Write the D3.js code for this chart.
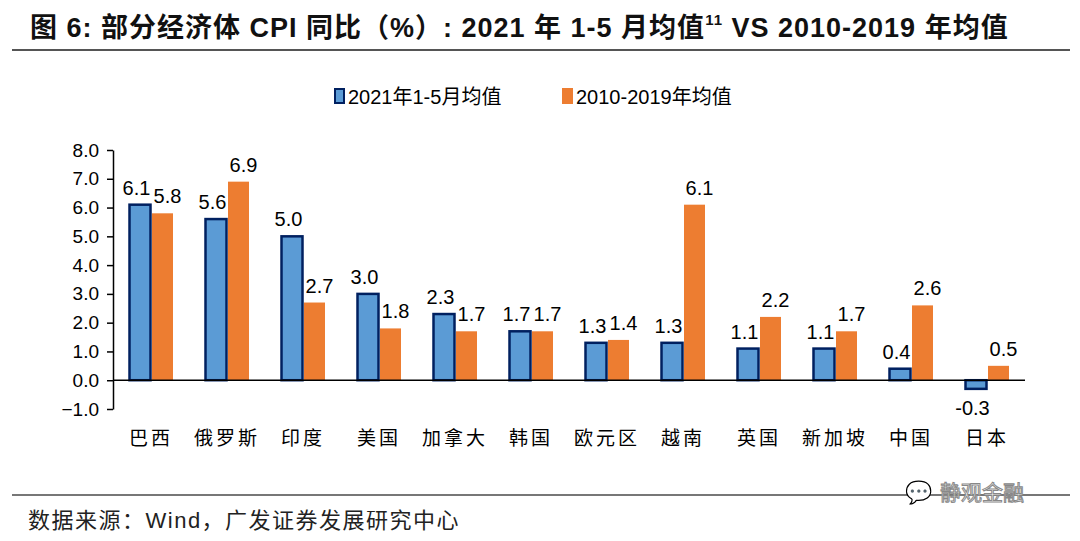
<!DOCTYPE html>
<html><head><meta charset="utf-8">
<script src="https://cdn.jsdelivr.net/npm/d3@7"></script>
<style>body{margin:0;background:#fff}svg text{font-family:"Liberation Sans","Noto Sans CJK SC",sans-serif}</style>
</head><body>
<svg id="c" width="1080" height="541"></svg>
<script>
// CPI comparison chart
var categories = ["巴西","俄罗斯","印度","美国","加拿大","韩国","欧元区","越南","英国","新加坡","中国","日本"];
var avg2021 = [6.1,5.6,5.0,3.0,2.3,1.7,1.3,1.3,1.1,1.1,0.4,-0.3];
var avg2010 = [5.8,6.9,2.7,1.8,1.7,1.7,1.4,6.1,2.2,1.7,2.6,0.5];
var yTicks = [-1,0,1,2,3,4,5,6,7,8];

var svg = d3.select("#c");
var cjk = '"Noto Sans CJK SC",sans-serif';

svg.append("text").attr("x",30).attr("y",37).attr("font-size",27).attr("font-weight","bold")
  .attr("font-family",'"Liberation Sans","Noto Sans CJK SC"').attr("fill","#111").attr("letter-spacing",1)
  .html('图 6:  部分经济体 CPI 同比（%）:  2021 年 1-5 月均值<tspan font-size="15" dy="-12">11</tspan><tspan dy="12">  VS 2010-2019 年均值</tspan>');
svg.append("line").attr("x1",12).attr("x2",1070).attr("y1",50).attr("y2",50).attr("stroke","#555").attr("stroke-width",2);
svg.append("line").attr("x1",12).attr("x2",1070).attr("y1",495).attr("y2",495).attr("stroke","#777").attr("stroke-width",2);
svg.append("text").attr("x",28).attr("y",528).attr("font-size",22).attr("font-family",cjk).attr("fill","#222")
  .attr("letter-spacing",1.5).text("数据来源：Wind，广发证券发展研究中心");
svg.append("text").attr("x",940).attr("y",500).attr("font-size",21).attr("font-family",cjk).attr("fill","#fff")
  .attr("stroke","#888").attr("stroke-width",1).text("静观金融");
svg.append("text").attr("x",905).attr("y",500).attr("font-size",22).attr("fill","#aaa").text("💬");

// legend
var leg = svg.append("g").attr("transform","translate(335,97)");
leg.append("rect").attr("x",0).attr("y",-8).attr("width",9).attr("height",14).attr("fill","#5B9BD5").attr("stroke","#002060").attr("stroke-width",2);
leg.append("text").attr("x",13).attr("y",7).attr("font-size",20).attr("font-family",cjk).text("2021年1-5月均值");
leg.append("rect").attr("x",227).attr("y",-9).attr("width",11).attr("height",16).attr("fill","#ED7D31");
leg.append("text").attr("x",241).attr("y",7).attr("font-size",20).attr("font-family",cjk).text("2010-2019年均值");

var x = d3.scaleBand().domain(categories).range([113,1025]);
var y = d3.scaleLinear().domain([-1,8]).range([409,150]);
var bw = 21;

var ax = svg.append("g").attr("transform","translate(113,0)")
  .call(d3.axisLeft(y).tickValues(yTicks).tickFormat(d3.format(".1f")).tickSize(6).tickSizeOuter(0));
ax.select(".domain").attr("stroke","#000").attr("stroke-width",1.5);
ax.selectAll("line").attr("stroke","#000").attr("stroke-width",1.5).attr("x2",0).attr("x1",-6);
ax.selectAll("text").attr("font-size",19).attr("fill","#000").attr("x",-14).attr("font-family","Liberation Sans");

var g = svg.append("g");
categories.forEach(function(c,i){
  var cx = x(c)+x.bandwidth()/2;
  var v1 = avg2021[i], v2 = avg2010[i];
  g.append("rect").attr("x",cx-bw-0.5).attr("width",bw)
    .attr("y",y(Math.max(0,v1))).attr("height",Math.abs(y(v1)-y(0)))
    .attr("fill","#5B9BD5").attr("stroke","#002060").attr("stroke-width",2.5);
  g.append("rect").attr("x",cx+1).attr("width",bw)
    .attr("y",y(Math.max(0,v2))).attr("height",Math.abs(y(v2)-y(0)))
    .attr("fill","#ED7D31");
  g.append("text").attr("x",cx-bw/2-4).attr("y",v1>=0?y(v1)-10:y(v1)+26)
    .attr("text-anchor","middle").attr("font-size",20).text(v1.toFixed(1));
  g.append("text").attr("x",cx+bw/2+6).attr("y",y(v2)-10)
    .attr("text-anchor","middle").attr("font-size",20).text(v2.toFixed(1));
  svg.append("text").attr("x",cx).attr("y",445).attr("text-anchor","middle").attr("font-size",19)
    .attr("font-family",cjk).attr("letter-spacing",3).text(c);
});
svg.append("line").attr("x1",113).attr("x2",1025).attr("y1",y(0)).attr("y2",y(0)).attr("stroke","#000").attr("stroke-width",1.5);
</script>
</body></html>
